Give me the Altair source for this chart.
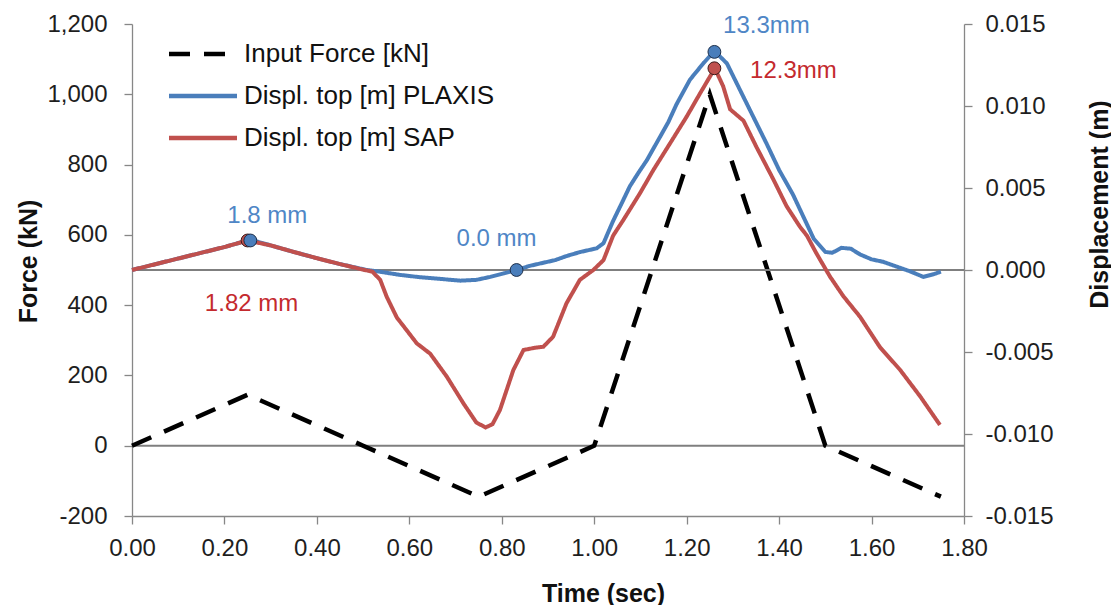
import altair as alt
import pandas as pd

FONT = "Liberation Sans"

# ---------------- data ----------------
series_names = ["Input Force [kN]", "Displ. top [m] PLAXIS", "Displ. top [m] SAP"]

# Input force (kN) - left axis
force_t = [0.00, 0.25, 0.50, 0.75, 1.00, 1.25, 1.50, 1.75]
force_kn = [0, 145, 0, -145, 0, 1000, 0, -145]

# PLAXIS displacement (mm) - right axis (shown in m)
plaxis_t = [0.00, 0.05, 0.10, 0.15, 0.20, 0.256, 0.30, 0.35, 0.40, 0.45, 0.508,
            0.54, 0.58, 0.62, 0.67, 0.71, 0.745, 0.775, 0.805, 0.832, 0.86, 0.885,
            0.915, 0.94, 0.97, 1.005, 1.02, 1.041, 1.06, 1.077, 1.095, 1.114, 1.142,
            1.16, 1.178, 1.207, 1.236, 1.26, 1.287, 1.315, 1.344, 1.373, 1.40, 1.43,
            1.45, 1.475, 1.50, 1.515, 1.535, 1.555, 1.575, 1.60, 1.625, 1.66, 1.685,
            1.712, 1.735, 1.75]
plaxis_mm = [0.0, 0.35, 0.70, 1.05, 1.40, 1.85, 1.50, 1.10, 0.72, 0.36, 0.0,
             -0.12, -0.30, -0.43, -0.55, -0.65, -0.60, -0.42, -0.20, 0.0, 0.25, 0.41,
             0.60, 0.85, 1.10, 1.32, 1.63, 3.0, 4.1, 5.1, 5.9, 6.7, 8.1,
             9.0, 10.1, 11.6, 12.6, 13.35, 12.6, 11.0, 9.35, 7.7, 6.1, 4.6,
             3.4, 1.9, 1.1, 1.05, 1.35, 1.3, 0.95, 0.65, 0.5, 0.15, -0.1,
             -0.42, -0.25, -0.1]

# SAP displacement (mm)
sap_t = [0.00, 0.05, 0.10, 0.15, 0.20, 0.25, 0.30, 0.35, 0.40, 0.45, 0.50,
         0.52, 0.537, 0.551, 0.573, 0.595, 0.616, 0.645, 0.681, 0.717, 0.745, 0.765,
         0.78, 0.796, 0.825, 0.847, 0.87, 0.89, 0.911, 0.94, 0.969, 0.998, 1.02,
         1.041, 1.063, 1.099, 1.128, 1.164, 1.20, 1.229, 1.261, 1.279, 1.294, 1.323,
         1.351, 1.388, 1.416, 1.445, 1.46, 1.481, 1.51, 1.539, 1.575, 1.618, 1.662,
         1.705, 1.748]
sap_mm = [0.0, 0.35, 0.70, 1.05, 1.40, 1.80, 1.50, 1.10, 0.72, 0.36, 0.02,
          -0.1, -0.6, -1.63, -2.9, -3.7, -4.47, -5.1, -6.5, -8.13, -9.3, -9.6,
          -9.4, -8.54, -6.1, -4.88, -4.75, -4.68, -4.07, -2.03, -0.6, 0.0, 0.6,
          2.1, 3.05, 4.68, 6.1, 7.72, 9.35, 10.77, 12.3, 11.2, 9.8, 9.1,
          7.5, 5.5, 3.9, 2.64, 2.1, 1.0, -0.4, -1.6, -2.85, -4.7, -6.1,
          -7.7, -9.45]

# highlighted points (mm) and their labels
plaxis_mark_t = [0.256, 0.832, 1.26]
plaxis_mark_mm = [1.8, 0.0, 13.3]
plaxis_labels = ["1.8 mm", "0.0 mm", "13.3mm"]
sap_mark_t = [0.25, 1.26]
sap_mark_mm = [1.8, 12.3]
sap_labels = ["1.82 mm", "12.3mm"]

x_ticks = [0.0, 0.2, 0.4, 0.6, 0.8, 1.0, 1.2, 1.4, 1.6, 1.8]
force_ticks = [-200, 0, 200, 400, 600, 800, 1000, 1200]
disp_ticks = [-0.015, -0.01, -0.005, 0.0, 0.005, 0.01, 0.015]

# ---------------- tables ----------------
force_df = pd.DataFrame({"t": force_t, "v": force_kn, "series": series_names[0]})
plaxis_df = pd.DataFrame({"t": plaxis_t, "d": [m / 1000 for m in plaxis_mm], "series": series_names[1]})
sap_df = pd.DataFrame({"t": sap_t, "d": [m / 1000 for m in sap_mm], "series": series_names[2]})
pm_df = pd.DataFrame({"t": plaxis_mark_t, "d": [m / 1000 for m in plaxis_mark_mm], "label": plaxis_labels})
sm_df = pd.DataFrame({"t": sap_mark_t, "d": [m / 1000 for m in sap_mark_mm], "label": sap_labels})
zero_force_df = pd.DataFrame({"v": [0]})
zero_disp_df = pd.DataFrame({"d": [0.0]})

BLUE = "#4a7ebb"
RED = "#c0504d"
BLUE_TXT = "#4f86c6"
RED_TXT = "#c42a2e"
AXIS_GRAY = "#878787"

x_scale = alt.Scale(domain=[0, 1.8], nice=False, zero=False)
left_scale = alt.Scale(domain=[-200, 1200], nice=False, zero=False)
right_scale = alt.Scale(domain=[-0.015, 0.015], nice=False, zero=False)

x_axis = alt.Axis(values=x_ticks, format=".2f", title="Time (sec)", labelPadding=12,
                  titleX=471, titleY=85, titleAlign="center", titleBaseline="alphabetic")
left_axis = alt.Axis(values=force_ticks, title="Force (kN)", orient="left", labelPadding=17,
                     labelExpr="datum.value < 0 ? '-' + format(-datum.value, ',') : format(datum.value, ',')",
                     titleX=-104, titleY=237, titleAngle=270, titleAlign="center", titleBaseline="middle")
right_axis = alt.Axis(values=disp_ticks, title="Displacement (m)", orient="right", labelPadding=13,
                      labelExpr="datum.value < -0.0000001 ? '-' + format(-datum.value, '.3f') : format(abs(datum.value), '.3f')",
                      titleX=135, titleY=180, titleAngle=270, titleAlign="center", titleBaseline="middle")

color_scale = alt.Scale(domain=series_names, range=["#000000", BLUE, RED])
dash_scale = alt.Scale(domain=series_names, range=[[21, 14], [1, 0], [1, 0]])
leg = alt.Legend(orient="none", legendX=58, legendY=17, title=None, padding=0,
                 symbolType="M-3.4,0H3.4", symbolSize=400, symbolStrokeWidth=4.5,
                 labelFont=FONT, labelFontSize=26, labelColor="#111111", labelOffset=28,
                 rowPadding=16, labelLimit=500)

X = alt.X("t:Q", scale=x_scale, axis=x_axis)

# ---------------- left group (force) ----------------
zero_force = alt.Chart(zero_force_df).mark_rule(color="#7f7f7f", strokeWidth=2).encode(
    y=alt.Y("v:Q", scale=left_scale, axis=left_axis))
force_line = alt.Chart(force_df).mark_line(strokeWidth=4.5).encode(
    x=X,
    y=alt.Y("v:Q", scale=left_scale, axis=left_axis),
    color=alt.Color("series:N", scale=color_scale, legend=leg),
    strokeDash=alt.StrokeDash("series:N", scale=dash_scale, legend=leg),
)
left = alt.layer(zero_force, force_line)

# ---------------- right group (displacement) ----------------
Yd = alt.Y("d:Q", scale=right_scale, axis=right_axis)
zero_disp = alt.Chart(zero_disp_df).mark_rule(color="#7f7f7f", strokeWidth=2).encode(y=Yd)
disp_enc = dict(
    x=X, y=Yd,
    color=alt.Color("series:N", scale=color_scale, legend=leg),
    strokeDash=alt.StrokeDash("series:N", scale=dash_scale, legend=leg),
)
plaxis_line = alt.Chart(plaxis_df).mark_line(strokeWidth=4).encode(**disp_enc)
sap_line = alt.Chart(sap_df).mark_line(strokeWidth=4).encode(**disp_enc)

sap_pts = alt.Chart(sm_df).mark_circle(size=165, color=RED, stroke="#3b1a1a", strokeWidth=1,
                                       opacity=1).encode(x=X, y=Yd)
plaxis_pts = alt.Chart(pm_df).mark_circle(size=165, color=BLUE, stroke="#1d2f4a", strokeWidth=1,
                                          opacity=1).encode(x=X, y=Yd)


def label_layer(df, idx, color, dx, dy):
    return alt.Chart(df.iloc[[idx]]).mark_text(
        font=FONT, fontSize=24, color=color, align="center", baseline="alphabetic",
        dx=dx, dy=dy).encode(x=X, y=Yd, text="label:N")


labels = [
    label_layer(pm_df, 0, BLUE_TXT, 17, -17),
    label_layer(pm_df, 1, BLUE_TXT, -20, -24),
    label_layer(pm_df, 2, BLUE_TXT, 52, -19),
    label_layer(sm_df, 0, RED_TXT, 4, 71),
    label_layer(sm_df, 1, RED_TXT, 79, 10),
]

right = alt.layer(zero_disp, plaxis_line, sap_line, sap_pts, plaxis_pts, *labels)

chart = alt.layer(left, right).resolve_scale(y="independent").properties(
    width=832, height=492,
    padding={"left": 124, "top": 16, "right": 147, "bottom": 89},
    autosize=alt.AutoSizeParams(type="none"),
    background="white",
).configure_view(strokeWidth=0).configure_axis(
    domainColor=AXIS_GRAY, tickColor=AXIS_GRAY, domainWidth=1.3, tickWidth=1.3, tickSize=8,
    labelFont=FONT, labelFontSize=24, labelColor="#1e1e1e", grid=False,
    labelOverlap=False, labelFlush=False,
    titleFont=FONT, titleFontSize=25, titleFontWeight="bold", titleColor="#111111",
)

chart.save("out.html", embed_options={"renderer": "svg", "actions": False})
